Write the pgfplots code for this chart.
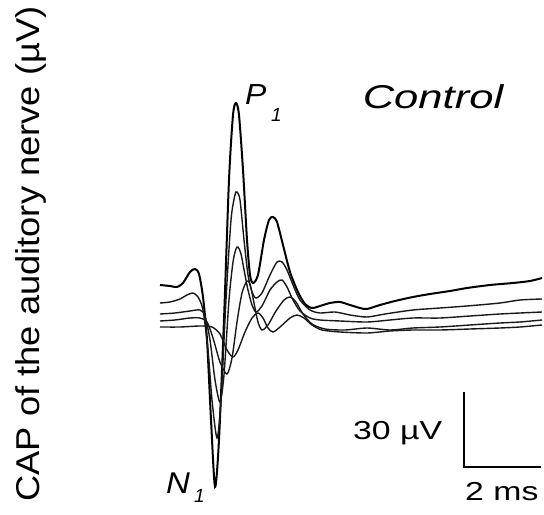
\documentclass[border=0pt]{standalone}
\usepackage{graphicx}
\usepackage{fontspec}
\setmainfont{Liberation Sans}
\usepackage{pgfplots}
\pgfplotsset{compat=1.18}

\begin{document}
\begin{tikzpicture}
\begin{axis}[
    scale only axis,
    width=544bp, height=515bp,
    xmin=-4.1558, xmax=9.974,
    ymin=-78, ymax=128,
    hide axis,
    clip=false,
    every axis plot/.append style={smooth, tension=0.45},
]
% traces: x in ms, y in microvolt
\addplot[black, line width=2bp] coordinates {
(0,14)(0.260,13.6)(0.442,13.2)(0.597,14.8)(0.779,19.2)(0.909,20.4)(1.013,18.4)
(1.117,9.2)(1.221,-8)(1.325,-40)(1.429,-66.8)(1.532,-48)(1.662,0)(1.792,56)
(1.896,82)(1.974,86.8)(2.052,82)(2.156,60)(2.260,32)(2.338,18)(2.416,14.8)
(2.545,18)(2.701,32)(2.831,40)(2.935,41.2)(3.039,39.2)(3.195,30)(3.377,19.2)
(3.584,11.2)(3.766,6.4)(3.948,4.8)(4.156,5.6)(4.416,6.8)(4.675,7.2)(4.935,6)
(5.195,4.8)(5.377,4.4)(5.714,6)(6.104,7.6)(6.571,9.2)(7.013,10.4)(7.532,11.6)
(7.974,12.8)(8.571,14)(9.169,14.8)(9.610,15.6)(9.922,16.8)
};
\addplot[black!90, line width=1.4bp] coordinates {
(0,6.8)(0.260,7.2)(0.519,8.4)(0.701,10)(0.857,10.8)(0.987,9.2)(1.117,4)
(1.247,-12)(1.351,-32)(1.481,-47.2)(1.584,-32)(1.714,8)(1.844,40)(1.948,50)
(2.000,51.2)(2.078,48)(2.182,32)(2.286,18)(2.390,11.2)(2.494,8.8)(2.649,10.8)
(2.857,18)(3.039,23.2)(3.169,23.2)(3.299,20)(3.455,14)(3.636,8)(3.896,4)
(4.156,2.8)(4.545,3.2)(4.935,2)(5.377,1.2)(5.844,2.4)(6.571,4)(7.273,4.8)
(7.974,5.6)(8.831,6.8)(9.351,8)(9.922,8.4)
};
\addplot[black!90, line width=1.4bp] coordinates {
(0,2.4)(0.390,2.8)(0.779,3.6)(1.039,4)(1.169,1.6)(1.299,-8)(1.429,-24)
(1.558,-32.8)(1.662,-22)(1.792,8)(1.896,23.2)(1.974,28.4)(2.026,29.2)
(2.104,26.4)(2.208,18)(2.286,12)(2.390,6)(2.494,3.2)(2.649,5.6)(2.857,12)
(3.039,15.2)(3.169,16)(3.299,13.2)(3.455,8)(3.636,3.6)(3.896,0.8)(4.156,0)
(4.675,-0.4)(5.377,-0.8)(5.974,0)(6.571,0.8)(7.273,0.8)(8.052,1.6)(8.831,2.4)
(9.351,2.8)(9.922,3.2)
};
\addplot[black!90, line width=1.4bp] coordinates {
(0,-0.4)(0.390,0)(0.779,0.8)(1.039,0.8)(1.221,-0.8)(1.377,-7.2)(1.558,-16.8)
(1.740,-21.6)(1.870,-15.2)(2.000,-0.8)(2.130,10.8)(2.260,15.6)(2.338,14.4)
(2.442,6.8)(2.545,-0.8)(2.649,-4)(2.805,-2)(3.013,3.6)(3.221,8)(3.377,9.2)
(3.532,7.2)(3.714,2.4)(3.948,-1.6)(4.286,-3.6)(4.805,-4)(5.377,-3.2)(5.974,-4)
(6.571,-3.2)(7.273,-2.8)(8.052,-2)(8.831,-1.2)(9.351,-0.8)(9.922,0)
};
\addplot[black!90, line width=1.4bp] coordinates {
(0,-2.8)(0.519,-2.8)(1.039,-2.4)(1.351,-2.8)(1.558,-5.6)(1.740,-12)(1.896,-14.8)
(2.026,-12)(2.208,-4.8)(2.390,0.8)(2.545,2.8)(2.675,0.8)(2.805,-3.2)(2.935,-4.8)
(3.117,-2.8)(3.377,0.8)(3.558,2)(3.740,0.8)(3.948,-2)(4.208,-4)(4.675,-4.8)
(5.377,-5.2)(5.974,-4.4)(6.571,-4)(7.273,-4)(8.052,-3.6)(8.831,-3.2)(9.351,-2.8)
(9.922,-2)
};
% scale bar: 30 uV x 2 ms
\addplot[black, line width=2.6bp, sharp plot] coordinates {
(7.896,-28.8)(7.896,-58.8)(9.896,-58.8)
};
% labels
\node[anchor=base west, inner sep=0pt] at (axis cs:2.208,86)
    {\scalebox{1.1}[1]{\fontsize{29bp}{31bp}\selectfont\itshape P}};
\node[anchor=base west, inner sep=0pt] at (axis cs:2.883,79.2)
    {\fontsize{19bp}{21bp}\selectfont\itshape 1};
\node[anchor=base west, inner sep=0pt] at (axis cs:0.156,-69.2)
    {\scalebox{1.1}[1]{\fontsize{30bp}{32bp}\selectfont\itshape N}};
\node[anchor=base west, inner sep=0pt] at (axis cs:0.883,-72.8)
    {\fontsize{19bp}{21bp}\selectfont\itshape 1};
\node[inner sep=0pt] at (axis cs:7.091,89.2)
    {\scalebox{1.32}[1]{\fontsize{33bp}{35bp}\selectfont\itshape Control}};
\node[anchor=base west, inner sep=0pt] at (axis cs:5.013,-48)
    {\scalebox{1.3}[1]{\fontsize{26bp}{28bp}\selectfont 30 µV}};
\node[anchor=base west, inner sep=0pt] at (axis cs:7.922,-72)
    {\scalebox{1.3}[1]{\fontsize{26bp}{28bp}\selectfont 2 ms}};
\node[rotate=90, inner sep=0pt] at (axis cs:-3.351,26.4)
    {\scalebox{1.1}[1]{\fontsize{33bp}{35bp}\selectfont CAP of the auditory nerve (µV)}};
\end{axis}
\pgfresetboundingbox
\path (current axis.south west) rectangle (current axis.north east);
\end{tikzpicture}
\end{document}
